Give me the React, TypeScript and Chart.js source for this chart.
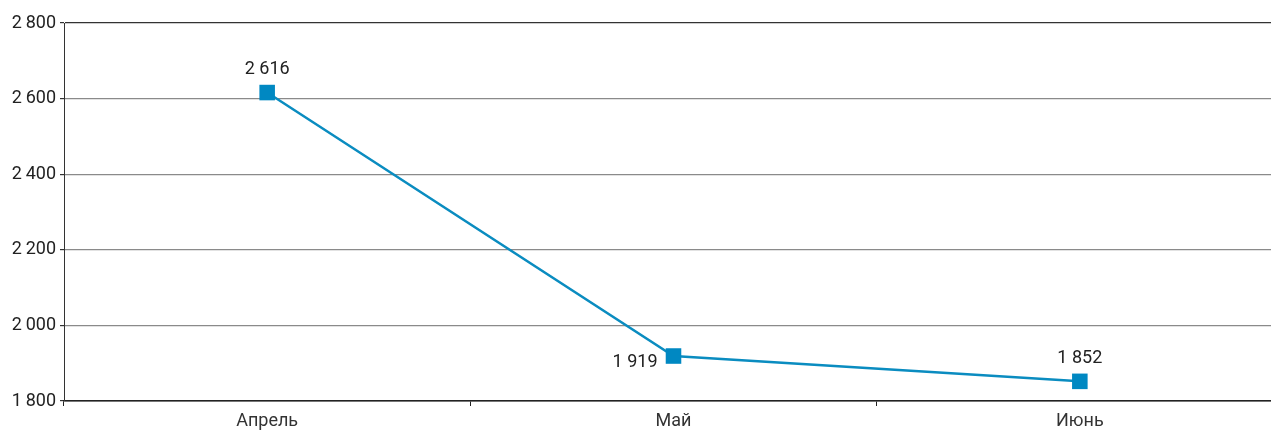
import React, { useEffect, useRef } from "react";
import { Chart, registerables } from "chart.js";

Chart.register(...registerables);

const categories = ["Апрель", "Май", "Июнь"];
const values = [2616, 1919, 1852];
const valueLabels = ["2 616", "1 919", "1 852"];
const labelPositions = ["top", "left", "top"];
const yTicks = [1800, 2000, 2200, 2400, 2600, 2800];

const FONT = "Roboto, 'Noto Sans', sans-serif";

function fmt(v: number): string {
  const s = String(v);
  return s.length > 3 ? s.slice(0, s.length - 3) + "\u2009" + s.slice(-3) : s;
}

const dataLabelPlugin = {
  id: "dataLabels",
  afterDatasetsDraw(chart: any) {
    const ctx = chart.ctx;
    const meta = chart.getDatasetMeta(0);
    ctx.save();
    ctx.font = "18px " + FONT;
    ctx.fillStyle = "#222";
    meta.data.forEach((pt: any, i: number) => {
      const pos = labelPositions[i];
      if (pos === "left") {
        ctx.textAlign = "right";
        ctx.textBaseline = "middle";
        ctx.fillText(valueLabels[i], pt.x - 16, pt.y + 6);
      } else {
        ctx.textAlign = "center";
        ctx.textBaseline = "middle";
        ctx.fillText(valueLabels[i], pt.x, pt.y - 23);
      }
    });
    ctx.restore();
  },
};

export default function App() {
  const ref = useRef<HTMLCanvasElement | null>(null);
  useEffect(() => {
    if (!ref.current) return;
    const chart = new Chart(ref.current, {
      type: "line",
      data: {
        labels: categories,
        datasets: [
          {
            data: values,
            borderColor: "#0a8cc0",
            backgroundColor: "#0088c2",
            borderWidth: 2.5,
            pointStyle: "rect",
            pointRadius: 11,
            pointHoverRadius: 11,
            pointBorderWidth: 0,
            pointBackgroundColor: "#0088c2",
            tension: 0,
          },
        ],
      },
      options: {
        responsive: false,
        animation: false,
        events: [],
        layout: { padding: { top: 23, left: 0, right: 0, bottom: 0 } },
        plugins: { legend: { display: false }, tooltip: { enabled: false } },
        scales: {
          x: {
            offset: true,
            grid: {
              offset: true,
              drawOnChartArea: false,
              drawTicks: true,
              tickLength: 5,
              tickColor: "#222",
            },
            border: { color: "#222", width: 1.5 },
            ticks: {
              color: "#333",
              font: { family: FONT, size: 18 },
              padding: 5,
              maxRotation: 0,
            },
            afterFit: (s: any) => {
              s.height = 29;
            },
          },
          y: {
            min: 1800,
            max: 2800,
            afterBuildTicks: (s: any) => {
              s.ticks = yTicks.map((v) => ({ value: v }));
            },
            grid: {
              color: (c: any) =>
                c.tick && (c.tick.value === 2800 || c.tick.value === 1800) ? "#333" : "#8a8a8a",
              lineWidth: 1.2,
              tickLength: 4,
              tickColor: "#333",
            },
            border: { color: "#333", width: 1 },
            ticks: {
              color: "#222",
              font: { family: FONT, size: 18 },
              padding: 4,
              callback: (v: any) => fmt(Number(v)),
            },
            afterFit: (s: any) => {
              s.width = 64;
            },
          },
        },
      },
      plugins: [dataLabelPlugin],
    });
    return () => chart.destroy();
  }, []);
  return (
    <div
      style={{
        position: "fixed",
        left: 0,
        top: 0,
        width: 1271,
        height: 430,
        overflow: "hidden",
        background: "#fff",
      }}
    >
      <canvas ref={ref} width={1294} height={430} style={{ display: "block" }} />
    </div>
  );
}
